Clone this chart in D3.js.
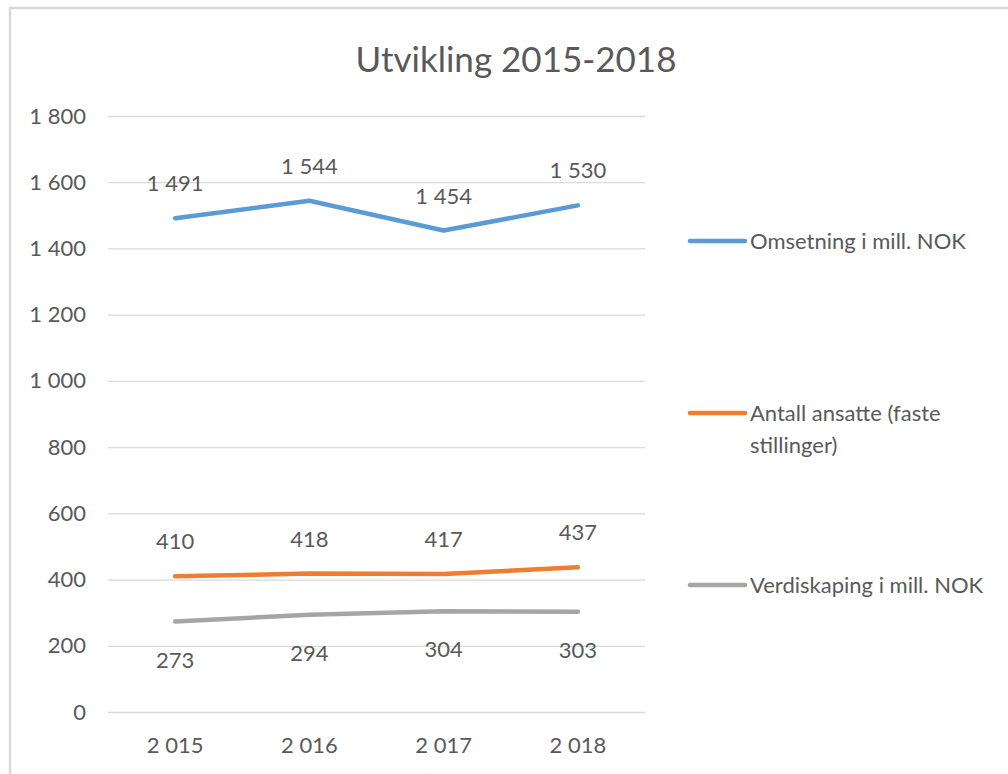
<!DOCTYPE html>
<html>
<head>
<meta charset="utf-8">
<script src="https://cdn.jsdelivr.net/npm/d3@7"></script>
<style>
  body { margin: 0; background: #fff; }
  text { font-family: Lato, "Open Sans", sans-serif; fill: #595959; }
</style>
</head>
<body>
<div id="chart"></div>
<script>
const years = ["2 015", "2 016", "2 017", "2 018"];
const omsetning = [1491, 1544, 1454, 1530];
const ansatte = [410, 418, 417, 437];
const verdiskaping = [273, 294, 304, 303];
const yTicks = [0, 200, 400, 600, 800, 1000, 1200, 1400, 1600, 1800];

const series = [
    { name: ["Omsetning i mill. NOK"], color: "#5B9BD5", values: omsetning, labelPos: "above", legendY: 241 },
    { name: ["Antall ansatte (faste", "stillinger)"], color: "#ED7D31", values: ansatte, labelPos: "above", legendY: 413 },
    { name: ["Verdiskaping i mill. NOK"], color: "#A5A5A5", values: verdiskaping, labelPos: "below", legendY: 585 }
];

const width = 1008, height = 774;
const plot = { left: 108, right: 645, top: 116, bottom: 712 };
const fontSize = 22;

const svg = d3.select("#chart").append("svg")
    .attr("width", width)
    .attr("height", height);

// chart frame
svg.append("rect")
    .attr("x", 10).attr("y", 8)
    .attr("width", width + 10).attr("height", height + 10)
    .attr("fill", "white")
    .attr("stroke", "#d9d9d9")
    .attr("stroke-width", 2.5);

const nf = d3.formatLocale({ decimal: ",", thousands: " ", grouping: [3], currency: ["", ""] }).format(",d");

const x = d3.scaleBand()
    .domain(years)
    .range([plot.left, plot.right]);

const y = d3.scaleLinear()
    .domain([0, 1800])
    .range([plot.bottom, plot.top]);

// gridlines + y labels
const yAxis = svg.append("g")
    .attr("transform", `translate(${plot.left},0)`)
    .call(d3.axisLeft(y).tickValues(yTicks).tickSize(-(plot.right - plot.left)).tickPadding(22).tickFormat(nf));
yAxis.select(".domain").remove();
yAxis.selectAll(".tick line").attr("stroke", "#d9d9d9").attr("stroke-width", 1.3);
yAxis.selectAll(".tick text").attr("font-size", fontSize).attr("fill", "#595959")
    .style("font-family", "Lato, 'Open Sans', sans-serif");

// x labels
const xAxis = svg.append("g")
    .attr("transform", `translate(0,${plot.bottom})`)
    .call(d3.axisBottom(x).tickSize(0).tickPadding(25));
xAxis.select(".domain").remove();
xAxis.selectAll(".tick text").attr("font-size", fontSize).attr("fill", "#595959")
    .style("font-family", "Lato, 'Open Sans', sans-serif");

// title
svg.append("text")
    .attr("x", 516)
    .attr("y", 72)
    .attr("text-anchor", "middle")
    .attr("font-size", 35)
    .text("Utvikling 2015-2018");

const line = d3.line()
    .x((d, i) => x(years[i]) + x.bandwidth() / 2)
    .y(d => y(d));

series.forEach(s => {
    svg.append("path")
        .datum(s.values)
        .attr("fill", "none")
        .attr("stroke", s.color)
        .attr("stroke-width", 4.5)
        .attr("stroke-linejoin", "round")
        .attr("stroke-linecap", "round")
        .attr("d", line);

    svg.selectAll(null)
        .data(s.values)
        .enter()
        .append("text")
        .attr("x", (d, i) => x(years[i]) + x.bandwidth() / 2)
        .attr("y", d => s.labelPos === "above" ? y(d) - 27 : y(d) + 46)
        .attr("text-anchor", "middle")
        .attr("font-size", fontSize)
        .text(d => nf(d));

    // legend
    svg.append("line")
        .attr("x1", 690).attr("x2", 745)
        .attr("y1", s.legendY).attr("y2", s.legendY)
        .attr("stroke", s.color)
        .attr("stroke-width", 4.5)
        .attr("stroke-linecap", "round");

    s.name.forEach((t, j) => {
        svg.append("text")
            .attr("x", 750)
            .attr("y", s.legendY + 8 + j * 32)
            .attr("font-size", fontSize)
            .text(t);
    });
});
</script>
</body>
</html>
